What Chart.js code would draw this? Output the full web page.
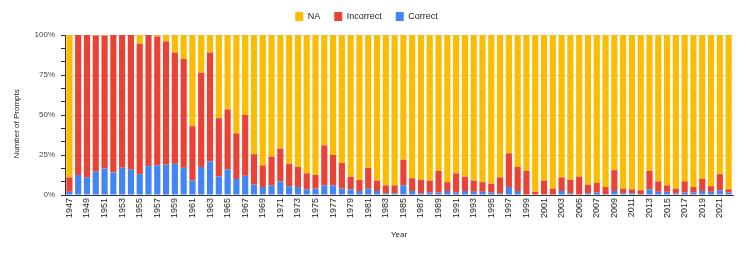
<!DOCTYPE html>
<html>
<head>
<meta charset="utf-8">
<script src="https://cdn.jsdelivr.net/npm/chart.js@4"></script>
<style>
html,body{margin:0;padding:0;background:#fff;}
#wrap{width:747px;height:253px;position:relative;}
</style>
</head>
<body>
<div id="wrap"><canvas id="c" width="747" height="253"></canvas></div>
<script>
const years = [1947,1948,1949,1950,1951,1952,1953,1954,1955,1956,1957,1958,1959,1960,1961,1962,1963,1964,1965,1966,1967,1968,1969,1970,1971,1972,1973,1974,1975,1976,1977,1978,1979,1980,1981,1982,1983,1984,1985,1986,1987,1988,1989,1990,1991,1992,1993,1994,1995,1996,1997,1998,1999,2000,2001,2002,2003,2004,2005,2006,2007,2008,2009,2010,2011,2012,2013,2014,2015,2016,2017,2018,2019,2020,2021,2022];

const correct = [2,12.5,11,14.5,16.5,14,17,16,13,18,18.5,19,19.5,17,9,17.5,21,11.5,16,10,12,6.5,5,6,8.5,5.5,5,3.5,4,6,6,4,3.5,2.5,4,2.5,1,1,6,2.5,1,1.5,1.5,2.5,1.5,2.5,2,2,1.5,1,5,2.5,0,0,0.5,0,2.5,1,0,1,1.5,0.5,2.5,1,1,0.5,3.5,2,2,1,1.5,1.5,2.5,2,3,1.5];

const incorrect = [9,87.5,89,85,83,86,83,84,81.5,82,80.5,77,69.5,68,34,59,68,36.5,37.5,28.5,38,19,13.5,18,20.5,14,12.5,10,8.5,25,19,16,8,7,13,6.5,5,5,16,8,8.5,7.5,13.5,5.5,12,9,7,6,5.5,10,21,15,15,2,8.5,4,8.5,8.5,11.5,5.5,6,4.5,13,3,2.5,2.5,11.5,6.5,4,3,7,3.5,7.5,3.5,10,2];

const na = [89,0,0,0.5,0.5,0,0,0,5.5,0,1,4,11,15,57,23.5,11,52,46.5,61.5,50,74.5,81.5,76,71,80.5,82.5,86.5,87.5,69,75,80,88.5,90.5,83,91,94,94,78,89.5,90.5,91,85,92,86.5,88.5,91,92,93,89,74,82.5,85,98,91,96,89,90.5,88.5,93.5,92.5,95,84.5,96,96.5,97,85,91.5,94,96,91.5,95,90,94.5,87,96.5];

const yTickValues = [0,25,50,75,100];
const seriesNames = ['Correct','Incorrect','NA'];
const seriesColors = ['#4285F4','#EA4335','#FBBC04'];

const FONT = 'Arial, "Liberation Sans", sans-serif';

const legendGap = {
  id: 'legendGap',
  afterInit(chart) {
    const lg = chart.legend;
    if (lg) {
      const orig = lg.fit;
      lg.fit = function() { orig.call(this); this.height += 4; };
    }
  }
};

new Chart(document.getElementById('c'), {
  type: 'bar',
  plugins: [legendGap],
  data: {
    labels: years.map(String),
    datasets: [
      {label: seriesNames[0], data: correct, backgroundColor: seriesColors[0]},
      {label: seriesNames[1], data: incorrect, backgroundColor: seriesColors[1]},
      {label: seriesNames[2], data: na, backgroundColor: seriesColors[2]}
    ]
  },
  options: {
    responsive: false,
    animation: false,
    devicePixelRatio: 1,
    layout: {padding: {left: 0, right: 14, top: -2, bottom: 8}},
    datasets: {bar: {barPercentage: 0.7, categoryPercentage: 1.0, borderWidth: 0}},
    plugins: {
      tooltip: {enabled: false},
      legend: {
        position: 'top',
        reverse: true,
        labels: {
          boxWidth: 8, boxHeight: 9, padding: 14,
          color: '#222',
          font: {family: FONT, size: 9}
        }
      }
    },
    scales: {
      x: {
        stacked: true,
        grid: {display: false, drawTicks: false},
        border: {display: true, color: '#333', width: 1},
        ticks: {
          autoSkip: false,
          maxRotation: 90, minRotation: 90,
          color: '#222',
          font: {family: FONT, size: 9},
          padding: 3,
          callback: function(v, i) { return (years[i] - 1947) % 2 === 0 ? String(years[i]) : ''; }
        },
        title: {display: true, text: 'Year', color: '#222', font: {family: FONT, size: 8}, padding: {top: 4, bottom: 5}},
        afterFit: function(s) { s.height = 50; }
      },
      y: {
        stacked: true,
        min: 0, max: 100,
        grid: {
          color: function(ctx) {
            const v = ctx.tick ? ctx.tick.value : 0;
            const k = Math.round(v * 12 / 100);
            return k % 3 === 0 ? '#d6d6d6' : '#ececec';
          },
          tickColor: '#333',
          tickLength: 4,
          drawTicks: true
        },
        border: {display: true, color: '#333', width: 1},
        ticks: {
          autoSkip: false,
          stepSize: 100 / 12,
          color: '#444',
          padding: 6,
          font: {family: FONT, size: 8},
          callback: function(v) {
            const k = Math.round(v * 12 / 100);
            return k % 3 === 0 ? String(yTickValues[k / 3]) + '%' : '';
          }
        },
        title: {display: true, text: 'Number of Prompts\u00a0\u00a0\u00a0\u00a0\u00a0\u00a0\u00a0\u00a0', color: '#222', font: {family: FONT, size: 8}, padding: {top: 12, bottom: 4}},
        afterFit: function(s) { s.width = 65; }
      }
    }
  }
});
</script>
</body>
</html>
